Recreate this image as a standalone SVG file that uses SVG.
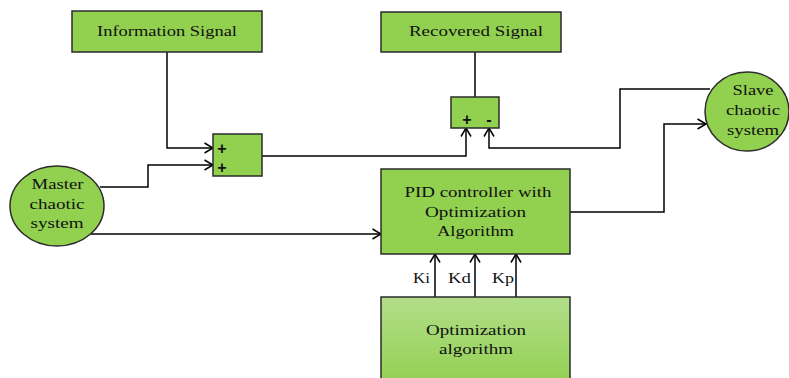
<svg xmlns="http://www.w3.org/2000/svg" width="789" height="378" viewBox="0 0 789 378">
<defs>
<style>
.box{fill:#92d050;stroke:#2b2b2b;stroke-width:1.5}
.t{font-family:"Liberation Serif","Times New Roman",serif;font-size:15px;fill:#111;text-anchor:middle}
.s{font-family:"Liberation Sans",Arial,sans-serif;font-size:16px;font-weight:bold;fill:#111;text-anchor:middle}
.c{fill:none;stroke:#000;stroke-width:1.5}
</style>
<marker id="a" viewBox="0 0 10 12" refX="9.5" refY="6" markerWidth="10" markerHeight="12" markerUnits="userSpaceOnUse" orient="auto">
<path d="M1,1 L9.5,6 L1,11" fill="none" stroke="#000" stroke-width="1.5"/>
</marker>
<linearGradient id="g" x1="0" y1="0" x2="0" y2="1">
<stop offset="0" stop-color="#b2de8a"/>
<stop offset="1" stop-color="#92d050"/>
</linearGradient>
</defs>
<rect width="789" height="378" fill="#fff"/>

<g id="connectors">
<polyline class="c" points="167,52 167,148 213,148" marker-end="url(#a)"/>
<polyline class="c" points="100,187 148,187 148,165 213,165" marker-end="url(#a)"/>
<polyline class="c" points="91,234 381,234" marker-end="url(#a)"/>
<polyline class="c" points="262,156 466,156 466,128" marker-end="url(#a)"/>
<line class="c" x1="475" y1="52" x2="475" y2="97"/>
<polyline class="c" points="710,89 620,89 620,148 489,148 489,128" marker-end="url(#a)"/>
<polyline class="c" points="570,212 664,212 664,124 706,124" marker-end="url(#a)"/>
<line class="c" x1="435" y1="297" x2="435" y2="254" marker-end="url(#a)"/>
<line class="c" x1="475" y1="297" x2="475" y2="254" marker-end="url(#a)"/>
<line class="c" x1="516" y1="297" x2="516" y2="254" marker-end="url(#a)"/>
<text class="t" x="421.5" y="283" textLength="17" lengthAdjust="spacingAndGlyphs">Ki</text>
<text class="t" x="459.5" y="283" textLength="23" lengthAdjust="spacingAndGlyphs">Kd</text>
<text class="t" x="503" y="283" textLength="22" lengthAdjust="spacingAndGlyphs">Kp</text>
</g>

<g id="info">
<rect class="box" x="72" y="11" width="190" height="41"/>
<text class="t" x="167" y="36" textLength="140" lengthAdjust="spacingAndGlyphs">Information Signal</text>
</g>

<g id="recovered">
<rect class="box" x="381" y="12" width="180" height="40"/>
<text class="t" x="476" y="36" textLength="134" lengthAdjust="spacingAndGlyphs">Recovered Signal</text>
</g>

<g id="adder">
<rect class="box" x="213" y="134" width="49" height="42"/>
<text class="s" x="222" y="154">+</text>
<text class="s" x="222" y="173">+</text>
</g>

<g id="subtractor">
<rect class="box" x="451" y="97" width="48" height="31"/>
<text class="s" x="467" y="125">+</text>
<text class="s" x="489" y="125">-</text>
</g>

<g id="master">
<ellipse class="box" cx="57" cy="206" rx="47" ry="40"/>
<text class="t" x="57.5" y="189" textLength="52" lengthAdjust="spacingAndGlyphs">Master</text>
<text class="t" x="57" y="209" textLength="55" lengthAdjust="spacingAndGlyphs">chaotic</text>
<text class="t" x="57" y="228" textLength="53" lengthAdjust="spacingAndGlyphs">system</text>
</g>

<g id="slave">
<ellipse class="box" cx="747" cy="111.5" rx="42" ry="39.5"/>
<text class="t" x="753" y="95" textLength="41" lengthAdjust="spacingAndGlyphs">Slave</text>
<text class="t" x="753" y="115" textLength="54" lengthAdjust="spacingAndGlyphs">chaotic</text>
<text class="t" x="753" y="135" textLength="52" lengthAdjust="spacingAndGlyphs">system</text>
</g>

<g id="pid">
<rect class="box" x="381" y="169" width="189" height="85"/>
<text class="t" x="478" y="197" textLength="147" lengthAdjust="spacingAndGlyphs">PID controller with</text>
<text class="t" x="475.5" y="217" textLength="101" lengthAdjust="spacingAndGlyphs">Optimization</text>
<text class="t" x="475.5" y="236" textLength="77" lengthAdjust="spacingAndGlyphs">Algorithm</text>
</g>

<g id="optimization">
<rect x="381" y="297" width="189" height="90" fill="url(#g)" stroke="#2b2b2b" stroke-width="1.5"/>
<text class="t" x="476" y="335" textLength="100" lengthAdjust="spacingAndGlyphs">Optimization</text>
<text class="t" x="476" y="354" textLength="74" lengthAdjust="spacingAndGlyphs">algorithm</text>
</g>
</svg>
